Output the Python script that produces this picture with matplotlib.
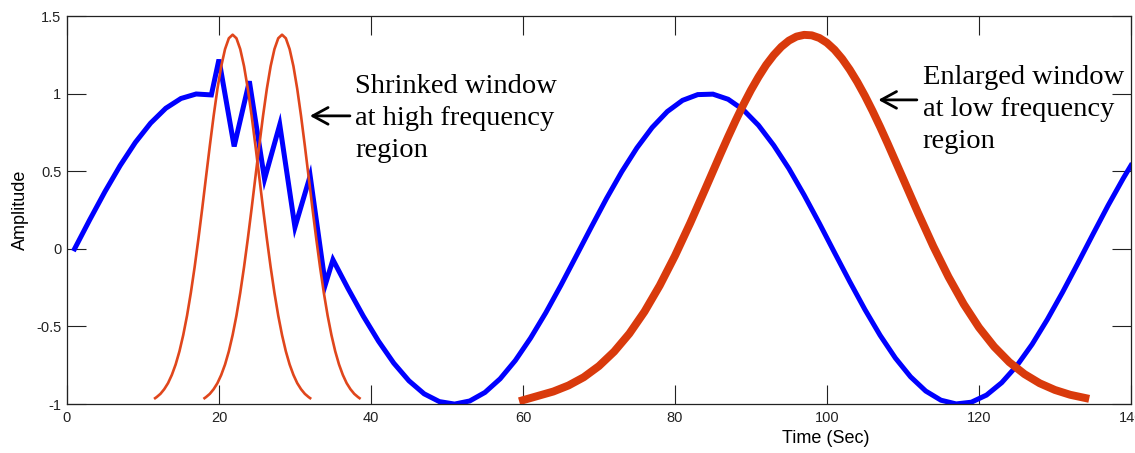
import matplotlib
matplotlib.use('Agg')
import matplotlib.pyplot as plt
import numpy as np

# signal: slow sine with a short high-frequency burst around t = 20..35
sig_t = [1, 3, 5, 7, 9, 11, 13, 15, 17, 19,
         20, 22, 24, 26, 28, 30, 32, 34, 35,
         37, 39, 41, 43, 45, 47, 49, 51, 53, 55, 57, 59, 61, 63, 65, 67, 69,
         71, 73, 75, 77, 79, 81, 83, 85, 87, 89, 91, 93, 95, 97, 99, 101,
         103, 105, 107, 109, 111, 113, 115, 117, 119, 121, 123, 125, 127,
         129, 131, 133, 135, 137, 139, 140]
sig_y = [0.0, 0.188, 0.369, 0.537, 0.686, 0.810, 0.906, 0.969, 0.998, 0.992,
         1.22, 0.66, 1.08, 0.45, 0.80, 0.14, 0.47, -0.23, -0.07,
         -0.257, -0.434, -0.595, -0.736, -0.850, -0.934, -0.984, -1.0, -0.980,
         -0.925, -0.837, -0.719, -0.575, -0.412, -0.234, -0.047, 0.141,
         0.325, 0.497, 0.651, 0.782, 0.885, 0.957, 0.994, 0.997, 0.964,
         0.896, 0.796, 0.667, 0.517, 0.347, 0.165, -0.024,
         -0.211, -0.391, -0.557, -0.703, -0.824, -0.916, -0.975, -0.999,
         -0.988, -0.942, -0.862, -0.752, -0.615,
         -0.455, -0.280, -0.095, 0.094, 0.280, 0.455, 0.537]

# narrow windows (same profile, two centres)
narrow_centres = [21.8, 28.3]
half_offsets = [0, 0.5, 1, 1.5, 2, 2.5, 3, 3.5, 4, 4.5, 5, 5.5, 6, 6.5,
                7, 7.5, 8, 8.5, 9, 9.5, 10, 10.2]
half_profile = [1.380, 1.357, 1.287, 1.177, 1.031, 0.857, 0.665, 0.464,
                0.261, 0.066, -0.117, -0.283, -0.430, -0.555, -0.660,
                -0.745, -0.812, -0.865, -0.904, -0.934, -0.955, -0.962]

# wide window
wide_t = [60, 62, 64, 66, 68, 70, 72, 74, 76, 78, 80, 82, 84, 86,
          87, 88, 89, 90, 91, 92, 93, 94, 95, 96, 97, 98, 99, 100, 101,
          102, 103, 104, 105, 106, 107, 108,
          110, 112, 114, 116, 118, 120, 122, 124, 126, 128, 130, 132, 134]
wide_y = [-0.975, -0.947, -0.919, -0.880, -0.827, -0.755, -0.662, -0.546,
          -0.404, -0.236, -0.045, 0.165, 0.387, 0.612,
          0.722, 0.828, 0.929, 1.023, 1.108, 1.185, 1.249, 1.302, 1.342,
          1.368, 1.379, 1.376, 1.359, 1.328, 1.283,
          1.225, 1.155, 1.075, 0.986, 0.889, 0.786, 0.678,
          0.455, 0.231, 0.016, -0.181, -0.356, -0.506, -0.630, -0.730,
          -0.807, -0.866, -0.909, -0.940, -0.961]

xticks = [0, 20, 40, 60, 80, 100, 120, 140]
yticks = [-1, -0.5, 0, 0.5, 1, 1.5]
ytick_labels = ['-1', '-0.5', '0', '0.5', '1', '1.5']

plt.rcParams['font.family'] = ['Liberation Sans', 'DejaVu Sans']

fig = plt.figure(figsize=(11.35, 4.53), dpi=100)
ax = fig.add_axes([0.059, 0.108, 0.9374, 0.8565])

ax.plot(sig_t, sig_y, color='#0000ff', lw=3.6, solid_joinstyle='miter', zorder=2)

offs = np.array(half_offsets)
prof = np.array(half_profile)
win_off = np.r_[-offs[::-1], offs[1:]]
win_val = np.r_[prof[::-1], prof[1:]]
for c in narrow_centres:
    ax.plot(c + win_off, win_val, color='#e0461c', lw=1.9, zorder=3)

ax.plot(wide_t, wide_y, color='#d93a0c', lw=5.7, zorder=3)

ax.set_xlim(0, 140)
ax.set_ylim(-1, 1.5)
ax.set_xticks(xticks)
ax.set_yticks(yticks)
ax.set_yticklabels(ytick_labels)
ax.tick_params(direction='in', length=14, width=0.8, top=True, right=True,
               labelsize=10.5, colors='#222222')
ax.tick_params(axis='x', pad=5)
ax.tick_params(axis='y', pad=4)
for s in ax.spines.values():
    s.set_linewidth(0.9)
    s.set_color('#222222')

ax.set_ylabel('Amplitude', fontsize=13)
ax.yaxis.set_label_coords(-0.0357, 0.5)
ax.set_xlabel('Time (Sec)', fontsize=13)
ax.xaxis.set_label_coords(0.713, -0.067)

serif = ['Liberation Serif', 'DejaVu Serif']
arrow = dict(arrowstyle='->,head_length=0.55,head_width=0.3', lw=2,
             color='black', mutation_scale=20)

ax.text(37.9, 0.84, 'Shrinked window\nat high frequency\nregion',
        family=serif, fontsize=20.5, ha='left', va='center', linespacing=1.35)
ax.annotate('', xy=(31.6, 0.857), xytext=(37.6, 0.857), arrowprops=arrow)

ax.text(112.6, 0.898, 'Enlarged window\nat low frequency\nregion',
        family=serif, fontsize=20.5, ha='left', va='center', linespacing=1.35)
ax.annotate('', xy=(106.4, 0.96), xytext=(112.2, 0.96), arrowprops=arrow)

fig.savefig('out.png', dpi=100)
